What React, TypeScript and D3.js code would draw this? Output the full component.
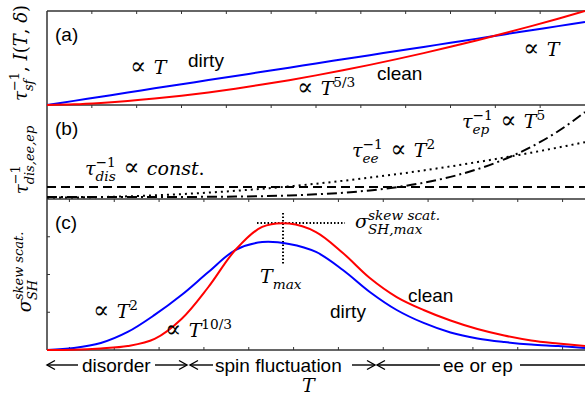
import React from "react";
import * as d3 from "d3";

// ---------- data (arbitrary units) ----------
const tGrid = [0, 0.05, 0.1, 0.15, 0.2, 0.25, 0.3, 0.35, 0.4, 0.45, 0.5, 0.55, 0.6, 0.65, 0.7, 0.75, 0.8, 0.85, 0.9, 0.95, 1.0];

// panel (a): spin-fluctuation rate
const sfDirty = [0, 0.044, 0.088, 0.132, 0.177, 0.221, 0.265, 0.309, 0.353, 0.397, 0.442, 0.486, 0.53, 0.574, 0.618, 0.662, 0.706, 0.751, 0.795, 0.839, 0.883];
const sfClean = [0, 0.007, 0.022, 0.042, 0.068, 0.099, 0.134, 0.174, 0.217, 0.264, 0.315, 0.369, 0.427, 0.488, 0.552, 0.619, 0.689, 0.763, 0.839, 0.918, 1.0];

// panel (b): scattering rates
const tDis = [0, 1];
const tauDis = [0.128, 0.128];
const tauEE = [0.015, 0.0165, 0.0209, 0.0283, 0.0386, 0.0519, 0.0681, 0.0873, 0.1094, 0.1345, 0.1625, 0.1935, 0.2274, 0.2643, 0.3041, 0.3469, 0.3926, 0.4413, 0.4929, 0.5475, 0.605];
const tauEP = [0.021, 0.021, 0.021, 0.0211, 0.0213, 0.0219, 0.0232, 0.0257, 0.0303, 0.0377, 0.0493, 0.0665, 0.0913, 0.1259, 0.1729, 0.2355, 0.3172, 0.4221, 0.5548, 0.7205, 0.925];

// panel (c): skew-scattering spin Hall conductivity
const sigmaDirty = [0, 0.016, 0.055, 0.142, 0.276, 0.433, 0.614, 0.787, 0.85, 0.835, 0.772, 0.63, 0.457, 0.315, 0.213, 0.138, 0.091, 0.063, 0.043, 0.031, 0.016];
const sigmaClean = [0, 0.002, 0.012, 0.031, 0.087, 0.244, 0.496, 0.787, 0.969, 0.996, 0.929, 0.764, 0.567, 0.417, 0.315, 0.232, 0.165, 0.114, 0.075, 0.051, 0.031];
const tMax = 0.4387;
const sigmaMax = 1.0;

// ---------- layout ----------
const W = 585, H = 402;
const X0 = 47, X1 = 585;
const YA = [11, 105];
const YB = [105, 199];
const YC = [199, 350];

const serifName = "DejaVu Serif";
const serif = '"DejaVu Serif", "Liberation Serif", serif';
const sans = '"Liberation Sans", Arial, sans-serif';

let ctx: CanvasRenderingContext2D | null = null;
function measure(s: string, size: number, italic: boolean) {
  if (!ctx) ctx = document.createElement("canvas").getContext("2d");
  if (!ctx) return s.length * size * 0.55;
  ctx.font = `${italic ? "italic " : ""}${size}px "${serifName}"`;
  return ctx.measureText(s).width;
}

type Seg = { b?: string; up?: boolean; big?: boolean; sup?: string; sub?: string };
const isUpright = (s: string) => /^[−\-\d\/\.\s]+$/.test(s);

function MathText({ segs, size, x, y, rotate, anchor }: { segs: Seg[]; size: number; x: number; y: number; rotate?: boolean; anchor?: string }) {
  const ss = size * 0.72;
  const out: any[] = [];
  let shift = 0;
  let pdx = 0;
  let k = 0;
  for (const s of segs) {
    if (s.b !== undefined) {
      out.push(
        <tspan key={k++} dx={pdx || undefined} dy={-shift || undefined} fontSize={s.big ? size * 1.25 : size} fontStyle={s.up ? "normal" : "italic"}>{s.b}</tspan>
      );
      shift = 0; pdx = 0;
    }
    if (s.sup && s.sub) {
      const supIt = !isUpright(s.sup);
      const wSup = measure(s.sup, ss, supIt);
      const wSub = measure(s.sub, ss, true);
      out.push(<tspan key={k++} dx={pdx || undefined} dy={-0.42 * size - shift} fontSize={ss} fontStyle={supIt ? "italic" : "normal"}>{s.sup}</tspan>);
      out.push(<tspan key={k++} dx={-wSup} dy={0.42 * size + 0.32 * size} fontSize={ss} fontStyle="italic">{s.sub}</tspan>);
      shift = 0.32 * size;
      pdx = Math.max(0, wSup - wSub);
    } else if (s.sup) {
      const supIt = !isUpright(s.sup);
      out.push(<tspan key={k++} dx={pdx || undefined} dy={-0.42 * size - shift} fontSize={ss} fontStyle={supIt ? "italic" : "normal"}>{s.sup}</tspan>);
      shift = -0.42 * size; pdx = 0;
    } else if (s.sub) {
      out.push(<tspan key={k++} dx={pdx || undefined} dy={0.3 * size - shift} fontSize={ss} fontStyle="italic">{s.sub}</tspan>);
      shift = 0.3 * size; pdx = 0;
    }
  }
  const tr = rotate ? `translate(${x},${y}) rotate(-90)` : `translate(${x},${y})`;
  return (
    <text transform={tr} fontFamily={serif} textAnchor={anchor || "start"} fill="#000">{out}</text>
  );
}

function Sans({ x, y, children, size = 19 }: { x: number; y: number; children: any; size?: number }) {
  return <text x={x} y={y} fontFamily={sans} fontSize={size} fill="#000">{children}</text>;
}

function Arrow({ from, to, y }: { from: number; to: number; y: number }) {
  const dir = to > from ? 1 : -1;
  const hl = 8, hw = 4.5;
  return (
    <g stroke="#000" strokeWidth={1.4} fill="none">
      <line x1={from} y1={y} x2={to} y2={y} />
      <path d={`M${to - dir * hl},${y - hw} L${to},${y} L${to - dir * hl},${y + hw}`} />
    </g>
  );
}

const P = { b: "∝ ", up: true, big: true };
const PS = { b: " ∝ ", up: true, big: true };

export default function App() {
  const x = d3.scaleLinear().domain([0, 1]).range([X0, X1]);
  const ya = d3.scaleLinear().domain([0, 1]).range([YA[1], YA[0]]);
  const yb = d3.scaleLinear().domain([0, 1]).range([YB[1], YB[0]]);
  const yc = d3.scaleLinear().domain([0, 151 / 127]).range([YC[1], YC[0]]);

  const mk = (ys: d3.ScaleLinear<number, number>, curve: any) =>
    d3.line<[number, number]>().x((d) => x(d[0])).y((d) => ys(d[1])).curve(curve);
  const zip = (t: number[], v: number[]) => t.map((tt, i) => [tt, v[i]] as [number, number]);

  const la = mk(ya, d3.curveMonotoneX);
  const lb = mk(yb, d3.curveMonotoneX);
  const lc = mk(yc, d3.curveCatmullRom);

  const frame = "#333";
  const topTicks = d3.range(1, 12).map((i) => X0 + (i * (X1 - X0)) / 12);
  const cTicks = d3.range(0, 12).map((i) => X0 + ((i + 0.5) * (X1 - X0)) / 12);
  const cLeftTicks = [1, 2, 3].map((i) => yc((i * 151) / 127 / 4));

  return (
    <svg width={W} height={H} style={{ position: "absolute", left: 0, top: 0, background: "#fff" }}>
      {/* frame */}
      <g stroke={frame} strokeWidth={1.5} fill="none">
        <line x1={X0} y1={YA[0]} x2={X0} y2={YC[1]} />
        {[YA[0], YA[1], YB[1], YC[1]].map((yy, i) => (
          <line key={i} x1={X0} y1={yy} x2={X1} y2={yy} />
        ))}
      </g>
      <g stroke={frame} strokeWidth={1}>
        {topTicks.map((t, i) => (
          <line key={"a" + i} x1={t} y1={YA[0]} x2={t} y2={YA[0] + 3} />
        ))}
        {topTicks.map((t, i) => (
          <line key={"b" + i} x1={t} y1={YB[0]} x2={t} y2={YB[0] + 3} />
        ))}
        {cTicks.map((t, i) => (
          <line key={"c" + i} x1={t} y1={YC[0]} x2={t} y2={YC[0] + 3} />
        ))}
        {cTicks.map((t, i) => (
          <line key={"d" + i} x1={t} y1={YC[1]} x2={t} y2={YC[1] - 3} />
        ))}
        {cLeftTicks.map((yy, i) => (
          <line key={"e" + i} x1={X0} y1={yy} x2={X0 + 3} y2={yy} />
        ))}
      </g>

      {/* panel (a) */}
      <path d={la(zip(tGrid, sfDirty)) || ""} fill="none" stroke="#0000ff" strokeWidth={2} />
      <path d={la(zip(tGrid, sfClean)) || ""} fill="none" stroke="#ff0000" strokeWidth={2} />

      {/* panel (b) */}
      <path d={lb(zip(tDis, tauDis)) || ""} fill="none" stroke="#000" strokeWidth={2} strokeDasharray="9,5" />
      <path d={lb(zip(tGrid, tauEE)) || ""} fill="none" stroke="#000" strokeWidth={2} strokeDasharray="2,4" />
      <path d={lb(zip(tGrid, tauEP)) || ""} fill="none" stroke="#000" strokeWidth={2} strokeDasharray="10,4,2,4" />

      {/* panel (c) */}
      <g stroke="#000" strokeWidth={2} strokeDasharray="1.5,2" fill="none">
        <line x1={x(tMax)} y1={yc(sigmaMax) - 10} x2={x(tMax)} y2={yc(sigmaMax) + 42} />
        <line x1={x(tMax) - 26} y1={yc(sigmaMax)} x2={x(tMax) + 62} y2={yc(sigmaMax)} />
      </g>
      <path d={lc(zip(tGrid, sigmaDirty)) || ""} fill="none" stroke="#0000ff" strokeWidth={2} />
      <path d={lc(zip(tGrid, sigmaClean)) || ""} fill="none" stroke="#ff0000" strokeWidth={2} />

      {/* panel labels */}
      <Sans x={55} y={41}>(a)</Sans>
      <Sans x={55} y={135}>(b)</Sans>
      <Sans x={55} y={229}>(c)</Sans>

      {/* y labels */}
      <MathText rotate x={27} y={53} size={18} anchor="middle"
        segs={[{ b: "τ", sup: "−1", sub: "sf" }, { b: ", ", up: true }, { b: "I" }, { b: "(", up: true }, { b: "T" }, { b: ", ", up: true }, { b: "δ" }, { b: ")", up: true }]} />
      <MathText rotate x={28} y={160} size={18} anchor="middle" segs={[{ b: "τ", sup: "−1", sub: "dis,ee,ep" }]} />
      <MathText rotate x={31} y={272} size={18} anchor="middle" segs={[{ b: "σ", sup: "skew scat.", sub: "SH" }]} />

      {/* panel (a) annotations */}
      <MathText x={130} y={74} size={19} segs={[P, { b: "T" }]} />
      <Sans x={188} y={67}>dirty</Sans>
      <Sans x={377} y={80}>clean</Sans>
      <MathText x={297} y={95} size={19} segs={[P, { b: "T", sup: "5/3" }]} />
      <MathText x={523} y={56} size={19} segs={[P, { b: "T" }]} />

      {/* panel (b) annotations */}
      <MathText x={85} y={175} size={19} segs={[{ b: "τ", sup: "−1", sub: "dis" }, PS, { b: "const" }, { b: ".", up: true }]} />
      <MathText x={352} y={157} size={19} segs={[{ b: "τ", sup: "−1", sub: "ee" }, PS, { b: "T", sup: "2" }]} />
      <MathText x={462} y={128} size={19} segs={[{ b: "τ", sup: "−1", sub: "ep" }, PS, { b: "T", sup: "5" }]} />

      {/* panel (c) annotations */}
      <MathText x={93} y={318} size={19} segs={[P, { b: "T", sup: "2" }]} />
      <MathText x={165} y={337} size={19} segs={[P, { b: "T", sup: "10/3" }]} />
      <MathText x={260} y={283} size={19} segs={[{ b: "T", sub: "max" }]} />
      <MathText x={355} y={228} size={19} segs={[{ b: "σ", sup: "skew scat.", sub: "SH,max" }]} />
      <Sans x={408} y={302}>clean</Sans>
      <Sans x={330} y={318}>dirty</Sans>

      {/* regimes */}
      <Arrow from={78} to={47} y={365} />
      <Sans x={82} y={372}>disorder</Sans>
      <Arrow from={155} to={187} y={365} />
      <Arrow from={213} to={190} y={365} />
      <Sans x={215} y={372}>spin fluctuation</Sans>
      <Arrow from={352} to={375} y={365} />
      <Arrow from={440} to={377} y={365} />
      <Sans x={443} y={372}>ee or ep</Sans>
      <line x1={520} y1={365} x2={585} y2={365} stroke="#000" strokeWidth={1.4} />
      <MathText x={302} y={392} size={19} segs={[{ b: "T" }]} />
    </svg>
  );
}
